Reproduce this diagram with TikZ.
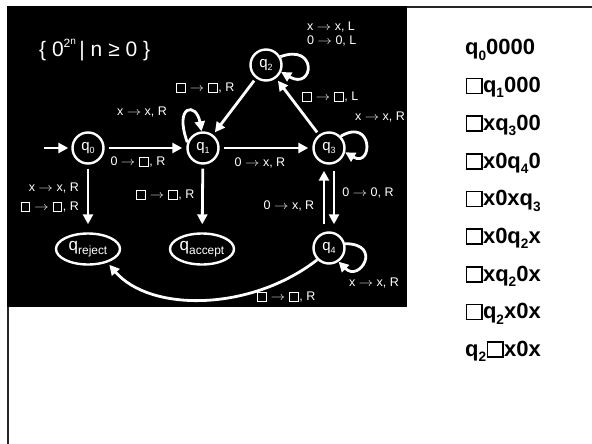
\documentclass[tikz,border=0pt]{standalone}
\usepackage{fontspec}
\setmainfont{Liberation Sans}
\usepackage{graphicx}
\usetikzlibrary{arrows.meta,shapes.geometric}

% lowered, shrunk index (q_0, q_reject, ...)
\newcommand{\qsub}[2][0.62]{\raisebox{-0.25em}{\scalebox{#1}{#2}}}
% tape blank symbol: an outlined square, with side space #1
\newcommand{\tapesq}[1]{\hspace{#1}{\setlength{\fboxsep}{0pt}\setlength{\fboxrule}{0.075em}\fbox{\rule{0pt}{0.6em}\rule{0.62em}{0pt}}}\hspace{#1}}
\newcommand{\blanklbl}{\tapesq{0.04em}}
\newcommand{\blanklist}{\tapesq{0.02em}}
% long thin arrow used in transition labels
\newcommand{\goesto}{\scalebox{1.2}[1]{$\rightarrow$}}

\begin{document}
\begin{tikzpicture}[x=1pt,y=-1pt,
  every node/.style={inner sep=0pt},
  state/.style={circle, draw=white, line width=2.4pt, minimum size=31pt,
    text=white, font=\fontsize{15}{15}\selectfont},
  halt/.style={ellipse, draw=white, line width=2.4pt, minimum width=64pt,
    minimum height=31pt, text=white, font=\fontsize{17}{17}\selectfont},
  conn/.style={draw=white, line width=2.8pt, -{Triangle[length=10pt,width=10pt]}},
  lbl/.style={text=white, font=\fontsize{12.5}{15}\selectfont},
  cfg/.style={anchor=base west, font=\fontsize{22}{22}\selectfont\bfseries}]

\useasboundingbox (0,0) rectangle (592,444);

% slide frame and black diagram panel
\draw[line width=2pt, black!85] (8,444) -- (8,7) -- (592,7);
\fill[black] (7,6) rectangle (407,307);

% language
\node[lbl, font=\fontsize{21}{21}\selectfont, anchor=west] (lang) at (39,50)
  {\{ 0\raisebox{0.42em}{\fontsize{12}{12}\selectfont 2\raisebox{0.3em}{\fontsize{10}{10}\selectfont n}}\,| n ≥ 0 \}};

% states
\node[state] (q0) at (88,148) {q\qsub[0.6]{0}};
\node[state] (q1) at (203,148) {q\qsub[0.6]{1}};
\node[state] (q2) at (266,65) {q\qsub[0.6]{2}};
\node[state] (q3) at (329,148) {q\qsub[0.6]{3}};
\node[state] (q4) at (329,248) {q\qsub[0.6]{4}};
\node[halt] (rej) at (88,249) {\makebox[0pt]{q\qsub[0.7]{reject}}};
\node[halt] (acc) at (202,249) {\makebox[0pt]{q\qsub[0.7]{accept}}};

% transitions
\coordinate (start) at (44,148);
\draw[conn, shorten >=3pt] (start) -- (q0);
\draw[conn, shorten <=4pt, shorten >=4pt] (q0) -- (q1);
\draw[conn, shorten <=4pt, shorten >=4pt] (q1) -- (q3);
\draw[conn, shorten <=3pt, shorten >=3pt] (q2) -- (q1);
\draw[conn, shorten <=3pt, shorten >=3pt] (q3) -- (q2);
\draw[conn, shorten <=6pt, shorten >=7pt] ([xshift=5pt]q3.south) -- ([xshift=5pt]q4.north);
\draw[conn, shorten <=7pt, shorten >=6pt] ([xshift=-5pt]q4.north) -- ([xshift=-5pt]q3.south);
\draw[conn, shorten <=4pt, shorten >=8pt] (q0) -- (rej);
\draw[conn, shorten <=4pt, shorten >=8pt] (q1) -- (acc);
\draw[conn] (q1.160) .. controls +(110:40pt) and +(100:30pt) .. (q1.95);
\draw[conn] (q2.30) .. controls +(20:40pt) and +(-30:38pt) .. (q2.-25);
\draw[conn] (q3.45) .. controls +(30:38pt) and +(-30:32pt) .. (q3.-15);
\draw[conn] (q4.15) .. controls +(0:38pt) and +(-45:30pt) .. (q4.-55);
\draw[conn, shorten >=3pt] (q4.225) .. controls (250,312) and (150,312) .. (rej.-35);

% transition labels
\node[lbl] (l01) at (138,162) {0 \goesto{} \blanklbl{}, R};
\node[lbl] (l11) at (142,112) {x \goesto{} x, R};
\node[lbl] (l21) at (205,88) {\blanklbl{} \goesto{} \blanklbl{}, R};
\node[lbl] (l32) at (330,97) {\blanklbl{} \goesto{} \blanklbl{}, L};
\node[lbl, align=left, anchor=west] (l22) at (307,34.5) {x \goesto{} x, L\\[-1pt]0 \goesto{} 0, L};
\node[lbl] (l33) at (380,117) {x \goesto{} x, R};
\node[lbl] (l13) at (260,163) {0 \goesto{} x, R};
\node[lbl, align=right, anchor=east, font=\fontsize{12.5}{19}\selectfont] (l0r) at (79,197.5) {x \goesto{} x, R\\\blanklbl{} \goesto{} \blanklbl{}, R};
\node[lbl] (l1a) at (165,195) {\blanklbl{} \goesto{} \blanklbl{}, R};
\node[lbl] (l34) at (368,193) {0 \goesto{} 0, R};
\node[lbl] (l43) at (289,206) {0 \goesto{} x, R};
\node[lbl] (l44) at (374,283) {x \goesto{} x, R};
\node[lbl] (l4r) at (286,297) {\blanklbl{} \goesto{} \blanklbl{}, R};

% configuration sequence
\node[cfg] (c1) at (465,55) {q\qsub{0}0000};
\node[cfg] (c2) at (465,92.5) {\blanklist q\qsub{1}000};
\node[cfg] (c3) at (465,130) {\blanklist xq\qsub{3}00};
\node[cfg] (c4) at (465,168) {\blanklist x0q\qsub{4}0};
\node[cfg] (c5) at (465,205.5) {\blanklist x0xq\qsub{3}};
\node[cfg] (c6) at (465,243) {\blanklist x0q\qsub{2}x};
\node[cfg] (c7) at (465,281) {\blanklist xq\qsub{2}0x};
\node[cfg] (c8) at (465,318.5) {\blanklist q\qsub{2}x0x};
\node[cfg] (c9) at (465,356) {q\qsub{2}\blanklist x0x};
\end{tikzpicture}
\end{document}
